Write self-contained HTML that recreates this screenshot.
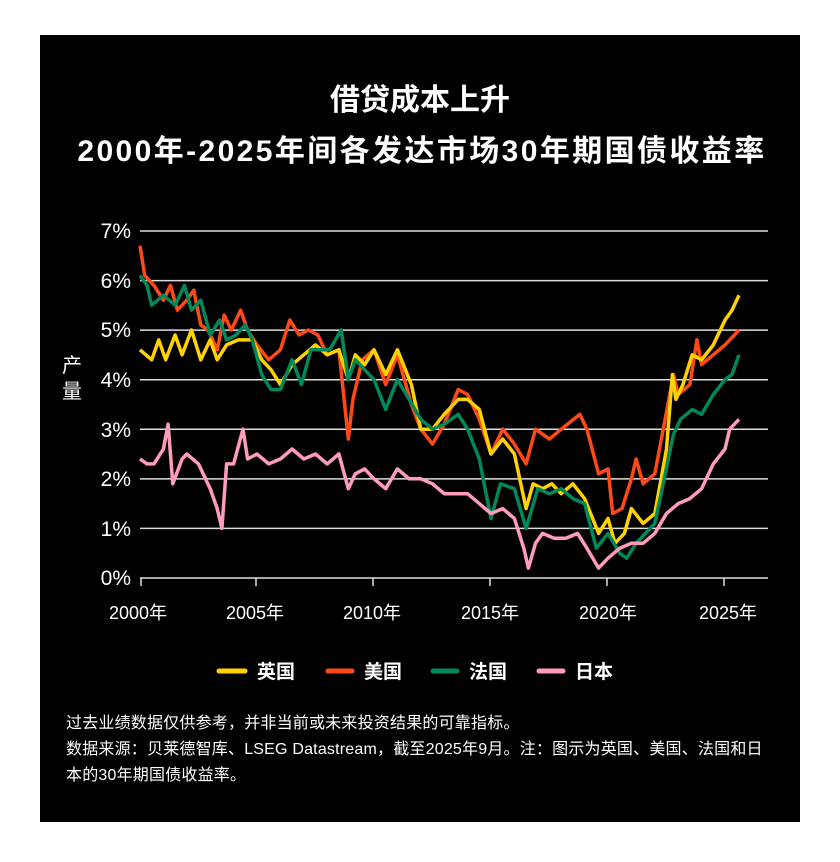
<!DOCTYPE html>
<html><head><meta charset="utf-8"><style>
body{margin:0;background:#fff;width:840px;height:857px;overflow:hidden}
svg text{font-family:"Liberation Sans","Noto Sans CJK SC",sans-serif}
</style></head><body>
<svg width="840" height="857" xmlns="http://www.w3.org/2000/svg">
<rect x="40" y="35" width="760" height="787" fill="#000"/>
<text x="420" y="110" fill="#fff" font-size="30" font-weight="bold" text-anchor="middle">借贷成本上升</text>
<text x="422" y="161" fill="#fff" font-size="30" font-weight="bold" text-anchor="middle" letter-spacing="2.4">2000年-2025年间各发达市场30年期国债收益率</text>
<g stroke="#ddd" stroke-width="1.5">
<line x1="140" x2="768" y1="231" y2="231"/><line x1="140" x2="768" y1="280.6" y2="280.6"/>
<line x1="140" x2="768" y1="330.1" y2="330.1"/><line x1="140" x2="768" y1="379.7" y2="379.7"/>
<line x1="140" x2="768" y1="429.3" y2="429.3"/><line x1="140" x2="768" y1="478.9" y2="478.9"/>
<line x1="140" x2="768" y1="528.4" y2="528.4"/><line x1="140" x2="768" y1="578" y2="578"/>
<line x1="141" x2="141" y1="578" y2="586"/><line x1="256" x2="256" y1="578" y2="586"/>
<line x1="373" x2="373" y1="578" y2="586"/><line x1="490" x2="490" y1="578" y2="586"/>
<line x1="607" x2="607" y1="578" y2="586"/><line x1="724" x2="724" y1="578" y2="586"/>
</g>
<g fill="#fff" font-size="21" text-anchor="end">
<text x="131" y="238">7%</text><text x="131" y="288">6%</text><text x="131" y="337">5%</text>
<text x="131" y="387">4%</text><text x="131" y="437">3%</text><text x="131" y="486">2%</text>
<text x="131" y="536">1%</text><text x="131" y="585">0%</text>
</g>
<text x="72" y="372" fill="#fff" font-size="20" text-anchor="middle">产</text>
<text x="72" y="398" fill="#fff" font-size="20" text-anchor="middle">量</text>
<g fill="#fff" font-size="18" text-anchor="middle">
<text x="138" y="619">2000年</text><text x="255" y="619">2005年</text><text x="372" y="619">2010年</text>
<text x="490" y="619">2015年</text><text x="608" y="619">2020年</text><text x="728" y="619">2025年</text>
</g>
<g id="series" fill="none" stroke-width="3.5" stroke-linejoin="round"></g>
<g stroke-width="5" stroke-linecap="round">
<line x1="219" x2="245" y1="671" y2="671" stroke="#ffd200"/>
<line x1="328" x2="352" y1="671" y2="671" stroke="#ff4a17"/>
<line x1="433" x2="457" y1="671" y2="671" stroke="#00875a"/>
<line x1="539" x2="563" y1="671" y2="671" stroke="#ff9cb9"/>
</g>
<g fill="#fff" font-size="19" font-weight="bold">
<text x="257" y="678">英国</text><text x="364" y="678">美国</text><text x="469" y="678">法国</text><text x="575" y="678">日本</text>
</g>
<g fill="#fff" font-size="16" letter-spacing="0.2">
<text x="66" y="728">过去业绩数据仅供参考，并非当前或未来投资结果的可靠指标。</text>
<text x="66" y="754">数据来源：贝莱德智库、LSEG Datastream，截至2025年9月。注：图示为英国、美国、法国和日</text>
<text x="66" y="780">本的30年期国债收益率。</text>
</g>
</svg>
<script>
var S=[
["#ff4a17",[2000,6.7,2000.2,6.1,2000.6,5.9,2001,5.6,2001.3,5.9,2001.6,5.4,2002,5.6,2002.3,5.8,2002.6,5.1,2002.9,5.0,2003.3,4.6,2003.6,5.3,2003.9,5.0,2004.3,5.4,2004.6,5.0,2005,4.7,2005.5,4.4,2006,4.6,2006.4,5.2,2006.8,4.9,2007.2,5.0,2007.6,4.9,2008,4.5,2008.5,4.6,2008.9,2.8,2009.1,3.6,2009.5,4.4,2010,4.6,2010.5,3.9,2011,4.5,2011.6,3.5,2012,3.0,2012.5,2.7,2013,3.1,2013.6,3.8,2014,3.7,2014.5,3.2,2015,2.5,2015.5,3.0,2016,2.7,2016.5,2.3,2016.9,3.0,2017.5,2.8,2018,3.0,2018.8,3.3,2019.1,3.0,2019.6,2.1,2020,2.2,2020.2,1.3,2020.6,1.4,2021,2.0,2021.2,2.4,2021.5,1.9,2022,2.1,2022.4,3.1,2022.8,4.1,2023,3.7,2023.5,3.9,2023.8,4.8,2024,4.3,2024.5,4.5,2025,4.7,2025.4,4.9,2025.6,5.0]],
["#ffd200",[2000,4.6,2000.5,4.4,2000.8,4.8,2001.1,4.4,2001.5,4.9,2001.8,4.5,2002.2,5.0,2002.6,4.4,2003,4.8,2003.3,4.4,2003.7,4.7,2004.2,4.8,2004.8,4.8,2005.2,4.4,2005.6,4.2,2006,3.9,2006.5,4.3,2007,4.5,2007.5,4.7,2008,4.5,2008.5,4.6,2008.9,4.0,2009.2,4.5,2009.6,4.3,2010,4.6,2010.5,4.1,2011,4.6,2011.6,3.9,2012,3.0,2012.5,3.0,2013,3.3,2013.6,3.6,2014,3.6,2014.5,3.4,2015,2.5,2015.5,2.8,2016,2.5,2016.5,1.4,2016.8,1.9,2017.2,1.8,2017.6,1.9,2018,1.7,2018.5,1.9,2019,1.6,2019.6,0.9,2020,1.2,2020.3,0.7,2020.7,0.9,2021,1.4,2021.5,1.1,2022,1.3,2022.5,2.6,2022.75,4.1,2022.9,3.6,2023.2,3.9,2023.6,4.5,2024,4.4,2024.5,4.7,2025,5.2,2025.3,5.4,2025.6,5.7]],
["#00875a",[2000,6.1,2000.3,5.9,2000.5,5.5,2001,5.7,2001.5,5.5,2001.9,5.9,2002.2,5.4,2002.6,5.6,2003,4.9,2003.4,5.2,2003.7,4.8,2004.1,4.9,2004.5,5.1,2004.8,4.8,2005.2,4.1,2005.6,3.8,2006,3.8,2006.5,4.4,2006.9,3.9,2007.3,4.6,2007.7,4.6,2008.1,4.6,2008.6,5.0,2008.9,4.0,2009.2,4.4,2009.6,4.2,2010,4.0,2010.5,3.4,2011,4.0,2011.5,3.6,2012,3.2,2012.5,3.0,2013,3.1,2013.6,3.3,2014,3.0,2014.5,2.4,2015,1.2,2015.4,1.9,2016,1.8,2016.5,1.0,2017,1.8,2017.5,1.7,2018,1.8,2018.5,1.6,2019,1.5,2019.5,0.6,2020,0.9,2020.5,0.5,2020.8,0.4,2021.2,0.7,2021.6,0.9,2022,1.1,2022.4,2.0,2022.8,2.9,2023.1,3.2,2023.6,3.4,2024,3.3,2024.5,3.7,2025,4.0,2025.3,4.1,2025.6,4.5]],
["#ff9cb9",[2000,2.4,2000.3,2.3,2000.6,2.3,2001,2.6,2001.2,3.1,2001.4,1.9,2001.8,2.4,2002,2.5,2002.5,2.3,2003,1.8,2003.3,1.4,2003.5,1.0,2003.7,2.3,2004,2.3,2004.4,3.0,2004.6,2.4,2005,2.5,2005.5,2.3,2006,2.4,2006.5,2.6,2007,2.4,2007.5,2.5,2008,2.3,2008.5,2.5,2008.9,1.8,2009.2,2.1,2009.6,2.2,2010,2.0,2010.5,1.8,2011,2.2,2011.5,2.0,2012,2.0,2012.5,1.9,2013,1.7,2013.5,1.7,2014,1.7,2014.5,1.5,2015,1.3,2015.5,1.4,2016,1.2,2016.4,0.6,2016.6,0.2,2016.9,0.7,2017.2,0.9,2017.7,0.8,2018.2,0.8,2018.7,0.9,2019.1,0.6,2019.6,0.2,2020,0.4,2020.5,0.6,2021,0.7,2021.5,0.7,2022,0.9,2022.5,1.3,2023,1.5,2023.5,1.6,2024,1.8,2024.5,2.3,2025,2.6,2025.2,3.0,2025.6,3.2]]];
var g=document.getElementById('series'),ns="http://www.w3.org/2000/svg";
S.forEach(function(s){var d=s[1],p=[];for(var i=0;i<d.length;i+=2)p.push((140+(d[i]-2000)*23.4).toFixed(1)+","+(578-d[i+1]*49.6).toFixed(1));
var e=document.createElementNS(ns,"polyline");e.setAttribute("points",p.join(" "));e.setAttribute("stroke",s[0]);g.appendChild(e);});
</script>
</body></html>
